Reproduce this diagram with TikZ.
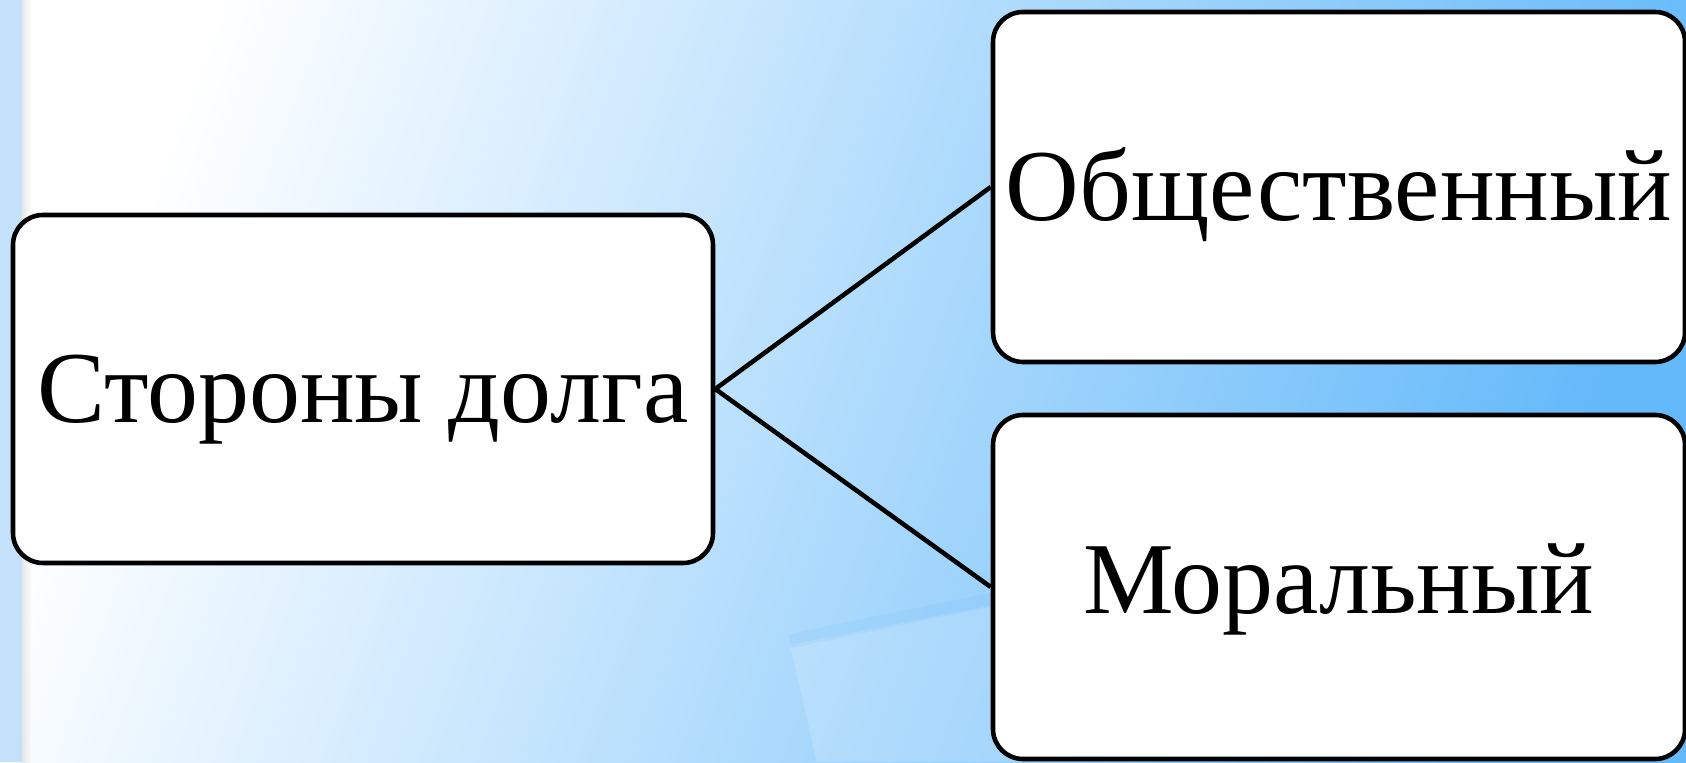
\documentclass[tikz,border=0pt]{standalone}
\usepackage{fontspec}
\setmainfont{Liberation Serif}
\definecolor{bg_blue}{RGB}{100,185,250}
\definecolor{bg_light}{RGB}{200,228,251}
\definecolor{strip_blue}{RGB}{195,225,250}

\tikzset{
  duty_box/.style={draw=black, line width=1.3pt, fill=white, rounded corners=0.3cm,
    inner sep=0pt, text height=20pt, text depth=1pt,
    font=\fontsize{29}{35}\selectfont},
  duty_link/.style={draw=black, line width=1.3pt}
}

\begin{document}
\begin{tikzpicture}
    % Slide size: 1686 x 762 px, 1px = 0.01cm
    \useasboundingbox (0,0) rectangle (16.86,7.62);

    % Background gradient, white at top left to blue at right
    \shade[top color=white, middle color=bg_light, bottom color=bg_blue, shading angle=70]
      (0,0) rectangle (16.86,7.62);

    % Faint light sheet near the bottom
    \fill[white, opacity=0.16] (7.90,1.17) -- (10.2,1.62) -- (10.2,0) -- (8.17,0) -- cycle;
    \draw[bg_blue, opacity=0.12, line width=4pt] (7.90,1.21) -- (10.2,1.68);

    % Left strip with its soft edge
    \fill[strip_blue] (0,0) rectangle (0.22,7.62);
    \shade[left color=gray!35, right color=white, opacity=0.5] (0.22,0) rectangle (0.32,7.62);

    % The three boxes
    \node[duty_box, minimum width=7.0cm, minimum height=3.48cm] (sides) at (3.63,3.73) {Стороны долга};
    \node[duty_box, minimum width=6.92cm, minimum height=3.50cm] (social) at (13.39,5.75) {Общественный};
    \node[duty_box, minimum width=6.92cm, minimum height=3.44cm, text depth=5.2pt] (moral) at (13.39,1.75) {Моральный};

    % Links from the left box
    \draw[duty_link] (sides.east) -- (social.west);
    \draw[duty_link] (sides.east) -- (moral.west);

  \end{tikzpicture}
\end{document}
